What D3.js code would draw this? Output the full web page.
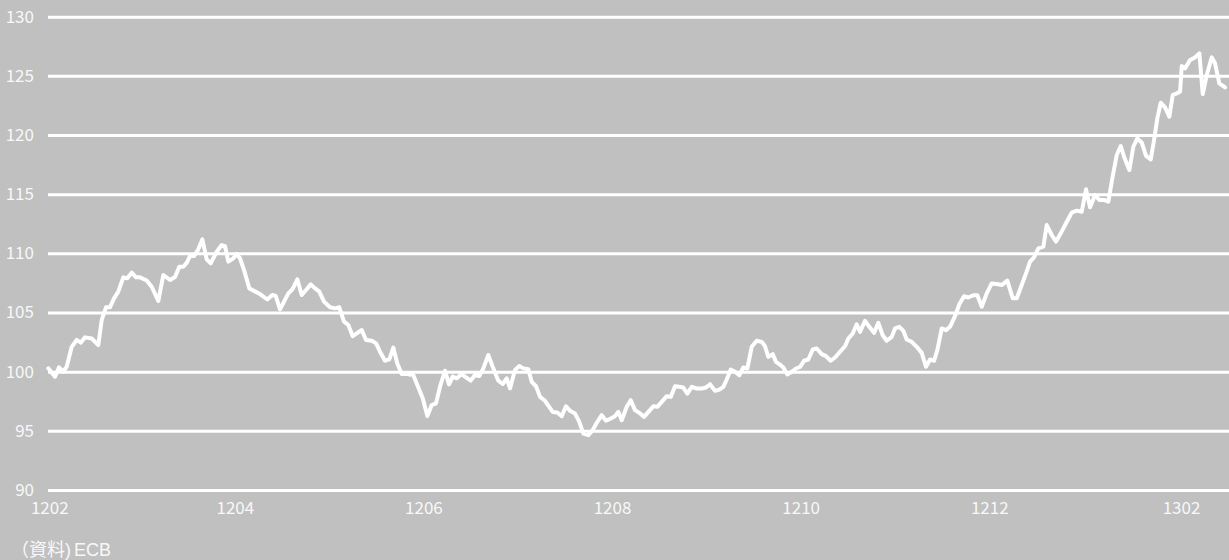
<!DOCTYPE html>
<html>
<head>
<meta charset="utf-8">
<script src="https://cdn.jsdelivr.net/npm/d3@7"></script>
<style>
  html, body { margin: 0; padding: 0; background: #c0c0c0; }
  svg { display: block; }
  text { font-family: "Noto Sans CJK JP", "Noto Sans", sans-serif; fill: #f8f8f8; }
</style>
</head>
<body>
<svg id="chart" width="1229" height="560"></svg>
<script>
// Days since 2012-02-01 (ECB reference rate observations)
const days = [
0, 2.17, 3.46, 4.85, 5.95, 7.57, 9.19, 10.48, 11.87, 14.04,
16.17, 17.27, 18.66, 19.96, 21.25, 22.64, 24.26, 25.55, 26.97, 28.36,
29.66, 31.82, 33.44, 35.58, 37.19, 39.36, 40.98, 42.37, 43.66, 44.76,
45.83, 47.12, 48.51, 49.81, 51.23, 52.52, 54.46, 56.08, 57.15, 58.22,
59.83, 60.93, 62.0, 63.29, 65.01, 68.47, 70.83, 72.45, 73.55, 74.94,
77.62, 79.04, 80.53, 81.95, 83.35, 84.87, 86.26, 87.65, 89.17, 91.11,
92.72, 94.12, 95.63, 97.03, 98.45, 99.74, 101.36, 102.75, 104.59, 105.99,
107.28, 108.9, 110.29, 111.58, 112.87, 114.3, 115.91, 118.05, 119.34, 121.09,
122.58, 124.0, 125.39, 126.68, 128.3, 129.59, 130.79, 132.09, 133.7, 135.09,
136.61, 138.0, 139.39, 140.69, 142.3, 143.92, 145.54, 146.96, 148.26, 149.32,
150.94, 152.33, 153.62, 155.24, 156.34, 157.73, 159.03, 160.64, 163.13, 164.62,
166.04, 167.43, 168.73, 170.34, 171.74, 173.03, 174.65, 176.07, 177.36, 178.98,
180.37, 181.89, 183.28, 184.35, 185.45, 187.06, 188.36, 189.75, 191.14, 192.66,
194.38, 195.67, 196.96, 198.39, 200.0, 201.3, 202.69, 204.08, 205.37, 206.67,
208.09, 209.71, 211.32, 212.71, 214.01, 215.62, 217.02, 218.31, 219.41, 220.7,
222.09, 223.48, 224.78, 226.07, 227.49, 229.11, 230.73, 231.79, 232.86, 234.28,
235.35, 236.87, 237.71, 239.01, 240.43, 241.82, 243.11, 244.41, 245.8, 247.22,
248.52, 250.13, 251.52, 253.04, 254.43, 256.05, 257.66, 258.74, 260.16, 261.45,
262.52, 264.14, 265.53, 267.05, 268.44, 269.86, 271.16, 272.77, 273.84, 275.23,
276.52, 277.62, 279.24, 280.86, 282.47, 283.86, 285.16, 286.45, 287.52, 288.94,
290.33, 291.62, 293.24, 294.63, 296.15, 297.55, 299.16, 300.45, 301.88, 303.5,
305.11, 306.73, 308.35, 310.16, 311.9, 313.2, 314.81, 316.2, 317.5, 318.79,
320.18, 321.8, 322.9, 324.52, 325.91, 327.43, 329.14, 330.98, 332.6, 334.22,
335.61, 336.91, 338.52, 339.91, 341.43, 342.82, 344.25, 345.54, 346.84, 347.9,
349.62, 350.91, 352.2, 353.63, 355.02, 356.54, 357.61, 358.67, 359.77, 361.16,
362.55, 363.65, 364.95, 366.02, 366.57, 367.63, 369.25, 370.87, 372.26, 373.36,
374.65, 376.27, 377.33, 378.72, 380.57
];

// EUR/JPY rate values
const rates = [
100.28, 99.58, 100.37, 100.0, 100.42, 102.1, 102.68, 102.45, 102.9, 102.8,
102.25, 104.37, 105.44, 105.44, 106.2, 106.76, 107.97, 107.9, 108.37, 107.97,
107.97, 107.7, 107.18, 105.97, 108.17, 107.75, 108.0, 108.87, 108.87, 109.2,
109.77, 109.77, 110.34, 111.18, 109.49, 109.15, 110.14, 110.7, 110.6, 109.3,
109.58, 109.94, 109.58, 108.6, 107.04, 106.56, 106.1, 106.48, 106.4, 105.27,
106.62, 106.99, 107.8, 106.48, 106.9, 107.38, 107.04, 106.76, 105.92, 105.44,
105.35, 105.44, 104.23, 103.94, 103.0, 103.24, 103.52, 102.68, 102.62, 102.39,
101.69, 100.93, 101.04, 102.03, 100.7, 99.8, 99.8, 99.72, 98.87, 97.75,
96.25, 97.18, 97.32, 98.73, 100.08, 98.93, 99.58, 99.44, 99.8, 99.52,
99.24, 99.72, 99.63, 100.28, 101.41, 100.28, 99.24, 98.96, 99.44, 98.59,
100.14, 100.48, 100.28, 100.2, 99.14, 98.77, 97.87, 97.54, 96.6, 96.55,
96.24, 97.08, 96.69, 96.46, 95.76, 94.77, 94.63, 95.06, 95.68, 96.32,
95.85, 96.04, 96.24, 96.61, 95.9, 97.03, 97.59, 96.75, 96.52, 96.18,
96.69, 97.08, 97.03, 97.45, 97.93, 97.87, 98.77, 98.72, 98.66, 98.15,
98.72, 98.58, 98.58, 98.66, 98.94, 98.38, 98.49, 98.72, 99.34, 100.18,
99.99, 99.7, 100.35, 100.27, 102.1, 102.61, 102.52, 102.15, 101.25, 101.48,
100.83, 100.55, 100.35, 99.76, 99.99, 100.27, 100.41, 100.92, 101.03, 101.87,
101.96, 101.48, 101.31, 100.92, 101.2, 101.68, 102.15, 102.8, 103.23, 104.01,
103.37, 104.3, 103.79, 103.28, 104.13, 103.08, 102.61, 102.94, 103.65, 103.79,
103.45, 102.72, 102.52, 102.1, 101.59, 100.41, 101.03, 100.92, 101.82, 103.65,
103.51, 103.79, 104.69, 105.7, 106.38, 106.27, 106.46, 106.46, 105.49, 106.62,
107.46, 107.41, 107.32, 107.69, 106.2, 106.2, 107.32, 108.31, 109.3, 109.66,
110.42, 110.56, 112.39, 111.55, 110.99, 111.69, 112.54, 113.44, 113.61, 113.52,
115.41, 113.89, 114.93, 114.51, 114.51, 114.37, 116.54, 118.31, 119.07, 118.17,
117.04, 119.01, 119.72, 119.35, 118.23, 117.94, 119.58, 121.41, 122.73, 122.34,
121.55, 123.38, 123.52, 123.66, 125.83, 125.63, 126.34, 126.56, 126.9, 123.46,
125.07, 126.56, 126.06, 124.37, 124.03
];

const yTicks = [90, 95, 100, 105, 110, 115, 120, 125, 130];
const xTickLabels = ["1202", "1204", "1206", "1208", "1210", "1212", "1302"];
const sourceLabel = "（資料)";
const sourceName = "ECB";

const W = 1229, H = 560;
const svg = d3.select("#chart");
const tickFont = '"Noto Sans CJK JP", "Noto Sans", sans-serif';

const start = Date.UTC(2012, 1, 1);
const dayMs = 86400000;
const data = days.map((d, i) => ({ date: new Date(start + d * dayMs), v: rates[i] }));

const x = d3.scaleUtc()
  .domain([new Date(Date.UTC(2012, 1, 1)), new Date(Date.UTC(2013, 1, 1))])
  .range([48.3, 1180]);
const y = d3.scaleLinear().domain([90, 130]).range([490, 16.7]);

svg.append("rect").attr("width", W).attr("height", H).attr("fill", "#c0c0c0");

// Y grid + labels
const yAxis = svg.append("g")
  .attr("transform", "translate(48,0)")
  .call(d3.axisLeft(y).tickValues(yTicks).tickSize(-(W - 48)).tickPadding(14).tickFormat(d3.format("d")));
yAxis.select(".domain").remove();
yAxis.selectAll(".tick line").attr("stroke", "#ffffff").attr("stroke-width", 3);
yAxis.selectAll(".tick text").attr("font-size", 17).attr("fill", "#f8f8f8")
  .style("font-family", tickFont);

// X labels
const xTickDates = xTickLabels.map(s => new Date(Date.UTC(2000 + +s.slice(0, 2), +s.slice(2) - 1, 1)));
const xAxis = svg.append("g")
  .attr("transform", "translate(1,490)")
  .call(d3.axisBottom(x).tickValues(xTickDates).tickSize(0).tickPadding(12)
    .tickFormat((d, i) => xTickLabels[i]));
xAxis.select(".domain").remove();
xAxis.selectAll(".tick text").attr("font-size", 17).attr("fill", "#f8f8f8")
  .style("font-family", tickFont);

// Line
const line = d3.line().x(d => x(d.date)).y(d => y(d.v));
svg.append("path")
  .datum(data)
  .attr("d", line)
  .attr("fill", "none")
  .attr("stroke", "#ffffff")
  .attr("stroke-width", 4)
  .attr("stroke-linejoin", "round")
  .attr("stroke-linecap", "round");

// Source note
const note = svg.append("text")
  .attr("x", 11)
  .attr("y", 556)
  .attr("font-size", 18)
  .style("font-family", '"Liberation Sans", "Noto Sans CJK JP", sans-serif');
note.append("tspan").text(sourceLabel);
note.append("tspan").attr("dx", 3).text(sourceName);
</script>
</body>
</html>
